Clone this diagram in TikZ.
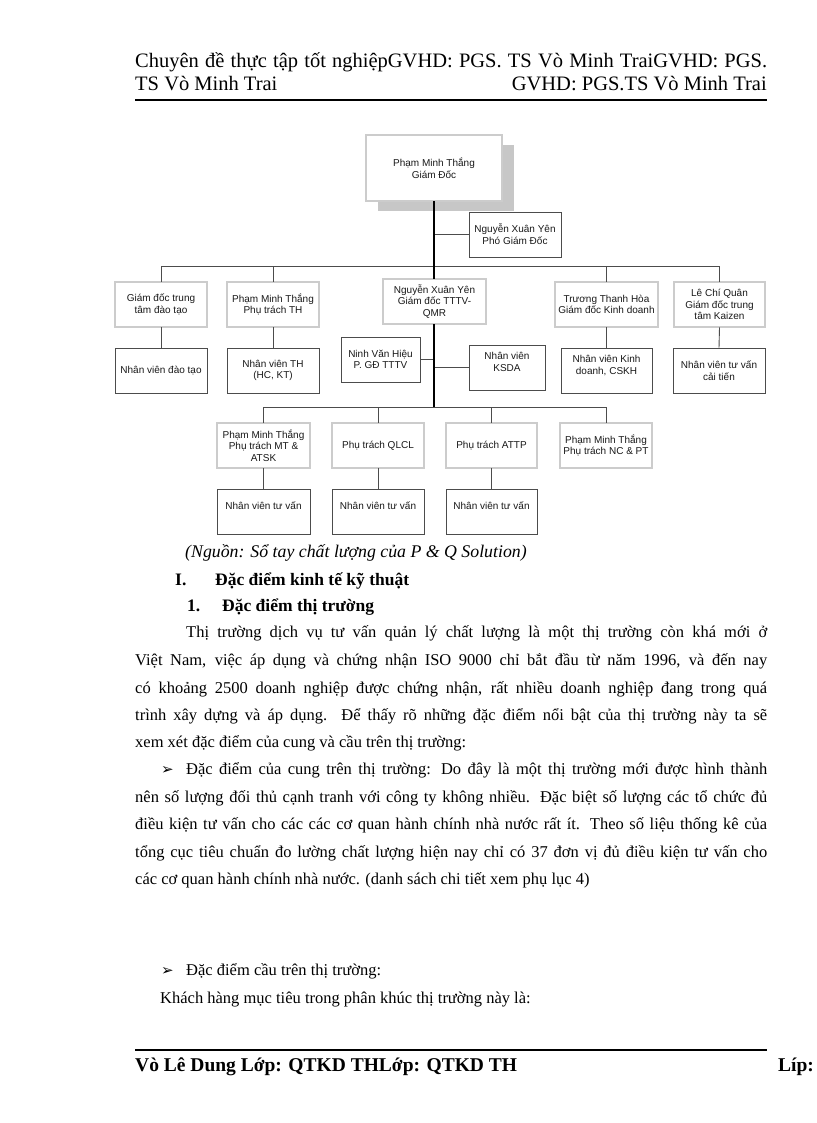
\documentclass[tikz,border=0pt]{standalone}
\usepackage{fontspec}
\setmainfont{Liberation Serif}
\newfontfamily\arial{Liberation Sans}
\newfontfamily\dejavu{DejaVu Sans}
\usetikzlibrary{shadows}
\begin{document}
\begin{tikzpicture}[x=1pt,y=-1pt,
  box/.style={draw=black!70, line width=0.7pt, fill=white, inner sep=0pt, align=center,
    font=\arial\fontsize{10}{11.7}\selectfont, text=black!90},
  dbox/.style={box, draw=black!80, line width=0.8pt, double=black!20, double distance=1.3pt},
  conn/.style={draw=black!70, line width=0.9pt},
  trunk/.style={draw=black, line width=1.8pt},
  body/.style={anchor=base west, inner sep=0pt, font=\fontsize{16.5}{20}\selectfont},
  heading/.style={anchor=base west, inner sep=0pt, font=\bfseries\fontsize{17.5}{21}\selectfont},
  head/.style={anchor=base west, inner sep=0pt, font=\fontsize{20.5}{24}\selectfont},
  bullet/.style={anchor=base west, inner sep=0pt, font=\dejavu\fontsize{15}{18}\selectfont},
]
\fill[white] (0,0) rectangle (816,1123);
\useasboundingbox (0,0) rectangle (816,1123);

% ---------- header ----------
\node[head] (h1) at (135,68) {\makebox[632pt][s]{Chuyên đề thực tập tốt nghiệpGVHD: PGS. TS Vò Minh TraiGVHD: PGS.}};
\node[head] (h2) at (135,91) {TS Vò Minh Trai};
\node[head, anchor=base east] (h3) at (767,91) {GVHD: PGS.TS Vò Minh Trai};
\draw[line width=2.5pt] (135,100) -- (767,100);

% ---------- org chart ----------
\node[dbox, minimum width=136pt, minimum height=66pt,
  drop shadow={shadow xshift=12pt, shadow yshift=-10pt, fill=black!22, opacity=1}]
  (top) at (434,168) {Phạm Minh Thắng\\Giám Đốc};
\node[box, minimum width=92pt, minimum height=45pt] (vice) at (515,234.5) {Nguyễn Xuân Yên\\Phó Giám Đốc};

\node[dbox, minimum width=92pt, minimum height=45pt] (a1) at (161,304.5) {Giám đốc trung\\tâm đào tạo};
\node[dbox, minimum width=92pt, minimum height=45pt] (a2) at (273,304.5) {Phạm Minh Thắng\\Phụ trách TH};
\node[dbox, minimum width=103pt, minimum height=45pt] (a3) at (434.5,301.5) {Nguyễn Xuân Yên\\Giám đốc TTTV-\\QMR};
\node[dbox, minimum width=103pt, minimum height=45pt] (a4) at (606.5,304.5) {Trương Thanh Hòa\\Giám đốc Kinh doanh};
\node[dbox, minimum width=91pt, minimum height=45pt] (a5) at (719.5,304.5) {Lê Chí Quân\\Giám đốc trung\\tâm Kaizen};

\node[box, minimum width=92pt, minimum height=45pt] (b1) at (161,370.5) {Nhân viên đào tạo};
\node[box, minimum width=92pt, minimum height=45pt] (b2) at (273,370.5) {Nhân viên TH\\(HC, KT)};
\node[box, minimum width=79pt, minimum height=45pt] (nvh) at (380.5,359.5) {Ninh Văn Hiệu\\P. GĐ TTTV};
\node[box, minimum width=76pt, minimum height=45pt] (ksda) at (507,367.5) {Nhân viên\\KSDA\\\mbox{}};
\node[box, minimum width=91pt, minimum height=45pt] (b4) at (606.5,370.5) {Nhân viên Kinh\\doanh, CSKH\\\mbox{}};
\node[box, minimum width=92pt, minimum height=45pt] (b5) at (719,370.5) {Nhân viên tư vấn\\cải tiến};

\node[dbox, minimum width=93pt, minimum height=45pt] (c1) at (263.5,445.5) {Phạm Minh Thắng\\Phụ trách MT \&\\ATSK};
\node[dbox, minimum width=92pt, minimum height=45pt] (c2) at (378,445.5) {Phụ trách QLCL};
\node[dbox, minimum width=91pt, minimum height=45pt] (c3) at (491.5,445.5) {Phụ trách ATTP};
\node[dbox, minimum width=92pt, minimum height=45pt] (c4) at (606,445.5) {Phạm Minh Thắng\\Phụ trách NC \& PT};

\node[box, minimum width=93pt, minimum height=45pt] (d1) at (263.5,511.5) {Nhân viên tư vấn\\\mbox{}};
\node[box, minimum width=92pt, minimum height=45pt] (d2) at (378,511.5) {Nhân viên tư vấn\\\mbox{}};
\node[box, minimum width=91pt, minimum height=45pt] (d3) at (491.5,511.5) {Nhân viên tư vấn\\\mbox{}};

\coordinate (bus1) at (434,266);
\coordinate (bus2) at (434,407);

% connectors
\draw[conn] (vice.west) -- (vice.west -| top.south);
\draw[conn] (a1.north) -- (a1.north |- bus1) -- (a5.north |- bus1) -- (a5.north);
\draw[conn] (a2.north) -- (a2.north |- bus1);
\draw[conn] (a4.north) -- (a4.north |- bus1);
\draw[conn] (a1.south) -- (b1.north);
\draw[conn] (a2.south) -- (b2.north);
\draw[conn] (a4.south) -- (b4.north);
\draw[conn] (a5.south) -- (b5.north);
\draw[conn] (nvh.east) -- (nvh.east -| bus2);
\draw[conn] (ksda.west) -- (ksda.west -| bus2);
\draw[conn] (c1.north) -- (c1.north |- bus2) -- (c4.north |- bus2) -- (c4.north);
\draw[conn] (c2.north) -- (c2.north |- bus2);
\draw[conn] (c3.north) -- (c3.north |- bus2);
\draw[conn] (c1.south) -- (d1.north);
\draw[conn] (c2.south) -- (d2.north);
\draw[conn] (c3.south) -- (d3.north);
\draw[trunk] (top.south) -- (top.south |- a3.north);
\draw[trunk] (a3.south -| top.south) -- (bus2);

% ---------- body text ----------
\node[body, font=\itshape\fontsize{17.8}{21}\selectfont] (src) at (185,557) {(Nguồn: Sổ tay chất lượng của P \& Q Solution)};
\node[heading] (s1n) at (175,585) {I.};
\node[heading] (s1) at (215,585) {Đặc điểm kinh tế kỹ thuật};
\node[heading] (s2n) at (187,611) {1.};
\node[heading] (s2) at (222,611) {Đặc điểm thị trường};

\node[body] (p1) at (186,637) {\makebox[581pt][s]{Thị trường dịch vụ tư vấn quản lý chất lượng là một thị trường còn khá mới ở}};
\node[body] (p2) at (135,665) {\makebox[632pt][s]{Việt Nam, việc áp dụng và chứng nhận ISO 9000 chỉ bắt đầu từ năm 1996, và đến nay}};
\node[body] (p3) at (135,693) {\makebox[632pt][s]{có khoảng 2500 doanh nghiệp được chứng nhận, rất nhiều doanh nghiệp đang trong quá}};
\node[body] (p4) at (135,720) {\makebox[632pt][s]{trình xây dựng và áp dụng. Để thấy rõ những đặc điểm nổi bật của thị trường này ta sẽ}};
\node[body] (p5) at (135,747) {xem xét đặc điểm của cung và cầu trên thị trường:};

\node[bullet] (bul1) at (161,774) {➢};
\node[body] (q1) at (186,774) {\makebox[581pt][s]{Đặc điểm của cung trên thị trường: Do đây là một thị trường mới được hình thành}};
\node[body] (q2) at (135,802) {\makebox[632pt][s]{nên số lượng đối thủ cạnh tranh với công ty không nhiều. Đặc biệt số lượng các tổ chức đủ}};
\node[body] (q3) at (135,829) {\makebox[632pt][s]{điều kiện tư vấn cho các các cơ quan hành chính nhà nước rất ít. Theo số liệu thống kê của}};
\node[body] (q4) at (135,857) {\makebox[632pt][s]{tổng cục tiêu chuẩn đo lường chất lượng hiện nay chỉ có 37 đơn vị đủ điều kiện tư vấn cho}};
\node[body] (q5) at (135,884) {các cơ quan hành chính nhà nước. (danh sách chi tiết xem phụ lục 4)};

\node[bullet] (bul2) at (161,975) {➢};
\node[body] (r1) at (186,975) {Đặc điểm cầu trên thị trường:};
\node[body] (r2) at (160,1003) {Khách hàng mục tiêu trong phân khúc thị trường này là:};

% ---------- footer ----------
\draw[line width=1.5pt] (135,1050) -- (767,1050);
\node[head, font=\bfseries\fontsize{19.5}{23}\selectfont] (f1) at (135,1071) {Vò Lê Dung Lớp: QTKD THLớp: QTKD TH};
\node[head, font=\bfseries\fontsize{19.5}{23}\selectfont] (f2) at (778,1071) {Líp:};
\end{tikzpicture}
\end{document}
